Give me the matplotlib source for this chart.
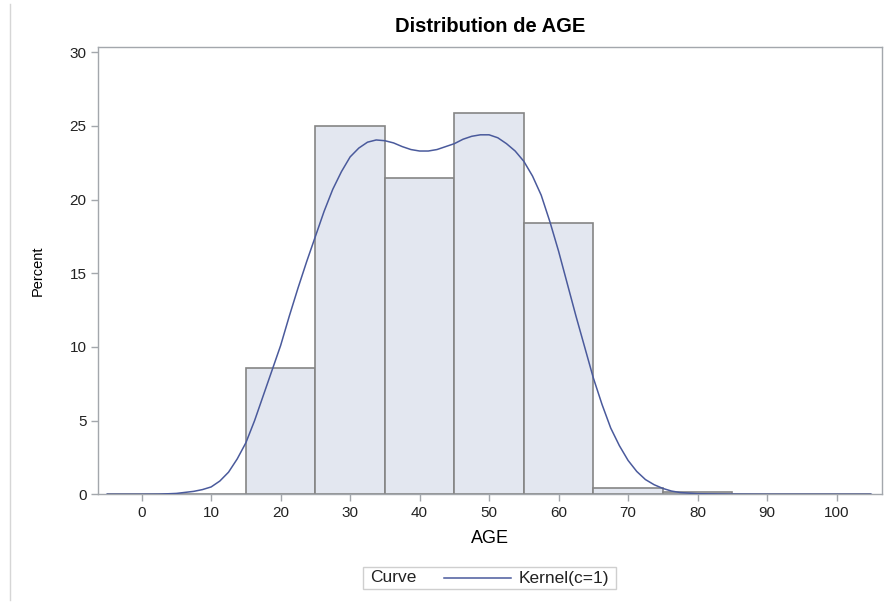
import numpy as np
import matplotlib.pyplot as plt
from matplotlib.lines import Line2D
from matplotlib.patches import Rectangle

plt.rcParams['font.family'] = ['Liberation Sans', 'DejaVu Sans']

# histogram bins (left edges, width 10) and percents
bin_left = [-5, 5, 15, 25, 35, 45, 55, 65, 75, 85, 95]
bin_pct = [0.0, 0.0, 8.55, 25.0, 21.5, 25.9, 18.4, 0.45, 0.15, 0.05, 0.0]

# kernel density curve
kde_age = [-5, -2.5, 0, 2.5, 5, 7.5, 8.75, 10, 11.25, 12.5, 13.75, 15, 16.25,
           17.5, 18.75, 20, 21.25, 22.5, 23.75, 25, 26.25, 27.5, 28.75, 30,
           31.25, 32.5, 33.75, 35, 36.25, 37.5, 38.75, 40, 41.25, 42.5, 43.75,
           45, 46.25, 47.5, 48.75, 50, 51.25, 52.5, 53.75, 55, 56.25, 57.5,
           58.75, 60, 61.25, 62.5, 63.75, 65, 66.25, 67.5, 68.75, 70, 71.25,
           72.5, 73.75, 75, 76.25, 77.5, 80, 85, 90, 95, 100, 105]
kde_pct = [0.0, 0.0, 0.0, 0.01, 0.06, 0.2, 0.32, 0.5, 0.9, 1.5, 2.4, 3.5, 5.0,
           6.7, 8.4, 10.1, 12.1, 14.0, 15.8, 17.5, 19.2, 20.7, 21.9, 22.9,
           23.5, 23.9, 24.05, 24.0, 23.85, 23.6, 23.4, 23.3, 23.3, 23.4, 23.6,
           23.8, 24.1, 24.3, 24.4, 24.4, 24.2, 23.8, 23.3, 22.6, 21.6, 20.3,
           18.5, 16.5, 14.3, 12.1, 10.0, 7.9, 6.1, 4.5, 3.3, 2.3, 1.55,
           1.0, 0.65, 0.4, 0.22, 0.12, 0.04, 0.01, 0.0, 0.0, 0.0, 0.0]

line_col = '#4A5A9C'
spine_col = '#A3A7AC'

fig = plt.figure(figsize=(8.95, 6.07), dpi=100)
ax = fig.add_axes([98.3 / 895, 1 - 494.3 / 607, 783.4 / 895, 447 / 607])

ax.bar(bin_left, bin_pct, width=10, align='edge', color='#E3E7F0',
       edgecolor='#858585', linewidth=1.2, zorder=2)
ax.plot(kde_age, kde_pct, color=line_col, linewidth=1.1, zorder=3)

ax.set_xlim(-6.24, 106.5)
ax.set_ylim(0, 30.34)
ax.set_xticks(np.arange(0, 101, 10))
ax.set_yticks(np.arange(0, 31, 5))

for s in ax.spines.values():
    s.set_color(spine_col)
    s.set_linewidth(1.0)
ax.tick_params(colors=spine_col, labelcolor='#222222', labelsize=11,
               length=5, width=1.0)

ax.set_title('Distribution de AGE', fontsize=14.5, fontweight='bold', pad=11)
ax.set_xlabel('AGE', fontsize=13, labelpad=7)
ax.set_ylabel('Percent', fontsize=10.5, labelpad=18)

# legend box below the axes
fig.patches.append(Rectangle((363 / 895, 1 - 589 / 607), 253 / 895, 22 / 607,
                             transform=fig.transFigure, facecolor='white',
                             edgecolor='#CFCFCF', linewidth=1.0))
fig.text(370 / 895, 1 - 578 / 607, 'Curve', fontsize=12.5, va='center',
         color='#222222')
fig.add_artist(Line2D([444 / 895, 511 / 895], [1 - 578 / 607, 1 - 578 / 607],
                      transform=fig.transFigure, color=line_col, linewidth=1.1))
fig.text(519 / 895, 1 - 578 / 607, 'Kernel(c=1)', fontsize=12.5, va='center',
         color='#222222')

# thin page border at the far left
fig.add_artist(Line2D([10 / 895, 10 / 895], [1 - 4 / 607, 1 - 600 / 607],
                      transform=fig.transFigure, color='#D6D6D6', linewidth=1.0))

fig.savefig('out.png', dpi=100)
